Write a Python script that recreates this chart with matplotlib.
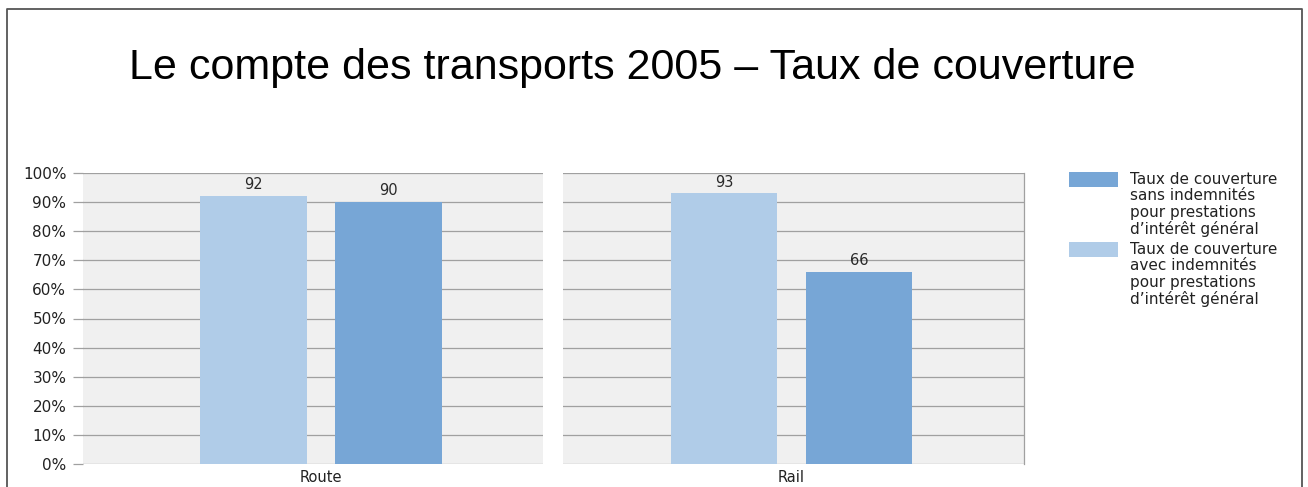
#!/usr/bin/env python3

# Le compte des transports 2005 - Taux de couverture

import matplotlib
matplotlib.use("Agg")
import matplotlib.pyplot as plt
from matplotlib.lines import Line2D
from matplotlib.patches import Rectangle

OUTPUT_FILENAME = "out.png"
FIGURE_SIZE     = (13.08, 4.87)

TITLE      = "Le compte des transports 2005 \u2013 Taux de couverture"
CATEGORIES = ["Route", "Rail"]
AVEC       = [92, 93]   # avec indemnités (light)
SANS       = [90, 66]   # sans indemnités (dark)
LABEL_SANS = "Taux de couverture\nsans indemnités\npour prestations\nd\u2019intérêt général"
LABEL_AVEC = "Taux de couverture\navec indemnités\npour prestations\nd\u2019intérêt général"
YTICKS     = list(range(0, 101, 10))

LIGHT = "#b0cce8"
DARK  = "#77a6d6"
PANEL = "#f0f0f0"
GRID  = "#a0a0a0"
FONT  = "DejaVu Sans"

W, H = 1308, 487
fig = plt.figure(figsize=FIGURE_SIZE, dpi=100)

def fx(px):
    return px / W

def fy(py):
    return 1 - py / H

# slide border
fig.add_artist(Line2D([fx(7), fx(7), fx(1302), fx(1302)], [0, fy(9), fy(9), 0],
                      color="#555555", lw=1.3))

fig.text(fx(632), fy(68), TITLE, ha="center", va="center",
         fontsize=31, family="Liberation Sans")

# (left px, right px, xlim)
panels = [(83, 543, (-1.263, 2.144)), (563, 1024, (-1.193, 2.222))]
top, bottom = 173, 464

for i, (x0, x1, xl) in enumerate(panels):
    ax = fig.add_axes([fx(x0), fy(bottom), fx(x1) - fx(x0), fy(top) - fy(bottom)])
    ax.set_facecolor(PANEL)
    ax.bar([0], [AVEC[i]], width=0.79, color=LIGHT, zorder=3)
    ax.bar([1], [SANS[i]], width=0.79, color=DARK, zorder=3)
    for x, v in [(0, AVEC[i]), (1, SANS[i])]:
        ax.text(x, v + 1.3, str(v), ha="center", va="bottom", fontsize=10.5,
                family=FONT, color="#2a2a2a", zorder=4)
    ax.set_xlim(*xl)
    ax.set_ylim(0, 100)
    ax.set_yticks(YTICKS)
    ax.yaxis.grid(True, color=GRID, lw=0.9, zorder=1)
    ax.set_axisbelow(True)
    ax.set_xticks([0.5])
    ax.set_xticklabels([CATEGORIES[i]], fontsize=10.5, family=FONT, color="#222222")
    ax.tick_params(axis="x", length=0, pad=4)
    for s in ax.spines.values():
        s.set_visible(False)
    if i == 0:
        ax.set_yticklabels([f"{t}%" for t in YTICKS], fontsize=11, family=FONT,
                           color="#222222")
        ax.tick_params(axis="y", length=7, color=GRID, width=0.9, pad=5)
    else:
        ax.tick_params(axis="y", left=False, labelleft=False)
        ax.spines["right"].set_visible(True)
        ax.spines["right"].set_color(GRID)
        ax.spines["right"].set_linewidth(0.9)

# legend drawn by hand so the swatch sits on the first text line
for color, label, ytop in [(DARK, LABEL_SANS, 172), (LIGHT, LABEL_AVEC, 242)]:
    fig.add_artist(Rectangle((fx(1069), fy(ytop + 15)), fx(1118) - fx(1069),
                             fy(ytop) - fy(ytop + 15), facecolor=color,
                             edgecolor="none"))
    fig.text(fx(1130), fy(ytop), label, ha="left", va="top", fontsize=11,
             family=FONT, color="#222222", linespacing=1.12)

plt.savefig(OUTPUT_FILENAME, dpi=100)
